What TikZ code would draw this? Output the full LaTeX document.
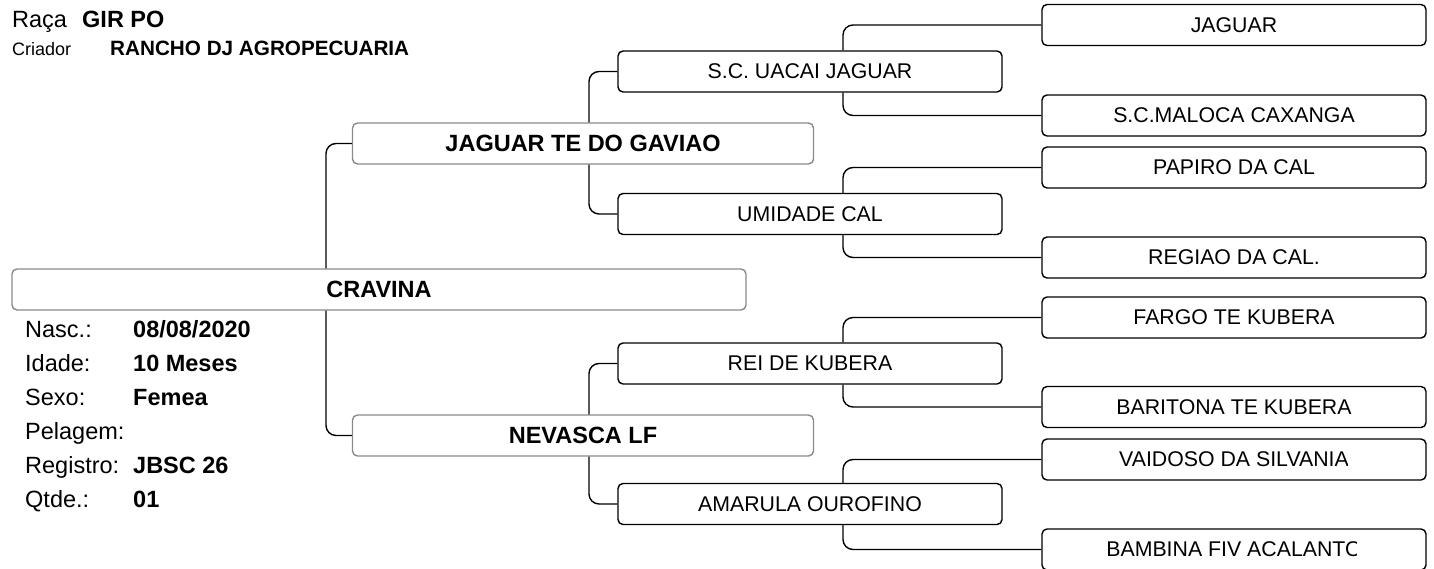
\documentclass[tikz,border=0pt]{standalone}
\usepackage{fontspec}
\setmainfont{Liberation Sans}
\definecolor{bgray}{HTML}{8A8A8A}
\begin{document}
\begin{tikzpicture}[x=1pt,y=-1pt,
  conn/.style={draw=black, line width=1.4pt, rounded corners=10pt},
  boxg/.style={draw=bgray, line width=1.4pt, rounded corners=5pt, minimum height=41pt, inner sep=0pt, fill=white, font=\fontsize{23.5}{26}\selectfont\bfseries},
  boxk/.style={draw=black, line width=1.4pt, rounded corners=5pt, minimum width=384pt, minimum height=41pt, inner sep=0pt, fill=white, font=\fontsize{21.3}{24}\selectfont},
  txt3/.style={inner sep=0pt, font=\fontsize{21.3}{24}\selectfont},
  lbl/.style={anchor=base west, inner sep=0pt, font=\fontsize{23.5}{26}\selectfont},
  val/.style={anchor=base west, inner sep=0pt, font=\fontsize{23.5}{26}\selectfont\bfseries}]
\useasboundingbox (0,0) rectangle (1434,568);

% header
\node[lbl, font=\fontsize{23.5}{26}\selectfont] (raca) at (12,27) {Raça};
\node[val, font=\fontsize{23.5}{26}\selectfont\bfseries] (raca v) at (82,27) {GIR PO};
\node[lbl, font=\fontsize{18}{21}\selectfont] (criador) at (12,55) {Criador};
\node[val, font=\fontsize{20.7}{24}\selectfont\bfseries] (criador v) at (110,55) {RANCHO DJ AGROPECUARIA};

% info
\node[lbl] (nasc) at (25,337) {Nasc.:};
\node[val] (nasc v) at (133,337) {08/08/2020};
\node[lbl] (idade) at (25,371) {Idade:};
\node[val] (idade v) at (133,371) {10 Meses};
\node[lbl] (sexo) at (25,405) {Sexo:};
\node[val] (sexo v) at (133,405) {Femea};
\node[lbl] (pel) at (25,439) {Pelagem:};
\node[lbl] (reg) at (25,473) {Registro:};
\node[val] (reg v) at (133,473) {JBSC 26};
\node[lbl] (qt) at (25,507) {Qtde.:};
\node[val] (qt v) at (133,507) {01};

% generation 0 and 1
\node[boxg, minimum width=734pt] (crav) at (379,289.5) {CRAVINA};
\node[boxg, minimum width=461pt] (jtdg) at (583,143.5) {JAGUAR TE DO GAVIAO};
\node[boxg, minimum width=461pt] (nev) at (583,435.5) {NEVASCA LF};

% generation 2
\node[boxk] (uacai) at (810,71.5) {S.C. UACAI JAGUAR};
\node[boxk] (umid) at (810,214) {UMIDADE CAL};
\node[boxk] (rei) at (810,363.5) {REI DE KUBERA};
\node[boxk] (amar) at (810,504) {AMARULA OUROFINO};

% generation 3 boxes
\node[boxk] (jag) at (1234,25) {JAGUAR};
\node[boxk] (mal) at (1234,115.5) {S.C.MALOCA CAXANGA};
\node[boxk] (pap) at (1234,167.5) {PAPIRO DA CAL};
\node[boxk] (regi) at (1234,257.5) {REGIAO DA CAL.};
\node[boxk] (far) at (1234,317.5) {FARGO TE KUBERA};
\node[boxk] (bar) at (1234,407) {};
\node[boxk] (vai) at (1234,459.5) {};
\node[boxk] (bam) at (1234,549.5) {};

\begin{scope}
\clip (1042,380) rectangle (1351,430);
\node[txt3] (bar t) at (bar.center) {BARITONA TE KUBERA};
\end{scope}
\begin{scope}
\clip (1042,430) rectangle (1347,490);
\node[txt3] (vai t) at (vai.center) {VAIDOSO DA SILVANIA};
\end{scope}
\begin{scope}
\clip (1042,520) rectangle (1356,580);
\node[txt3] (bam t) at (bam.center) {BAMBINA FIV ACALANTO};
\end{scope}

% connectors
\coordinate (xa) at (326,0);
\coordinate (xb) at (589,0);
\coordinate (xc) at (843,0);
\draw[conn] (xa |- crav.north) |- (jtdg.west);
\draw[conn] (xa |- crav.south) |- (nev.west);
\draw[conn] (xb |- jtdg.north) |- (uacai.west);
\draw[conn] (xb |- jtdg.south) |- (umid.west);
\draw[conn] (xb |- nev.north) |- (rei.west);
\draw[conn] (xb |- nev.south) |- (amar.west);
\draw[conn] (xc |- uacai.north) |- (jag.west);
\draw[conn] (xc |- uacai.south) |- (mal.west);
\draw[conn] (xc |- umid.north) |- (pap.west);
\draw[conn] (xc |- umid.south) |- (regi.west);
\draw[conn] (xc |- rei.north) |- (far.west);
\draw[conn] (xc |- rei.south) |- (bar.west);
\draw[conn] (xc |- amar.north) |- (vai.west);
\draw[conn] (xc |- amar.south) |- (bam.west);
\end{tikzpicture}
\end{document}
